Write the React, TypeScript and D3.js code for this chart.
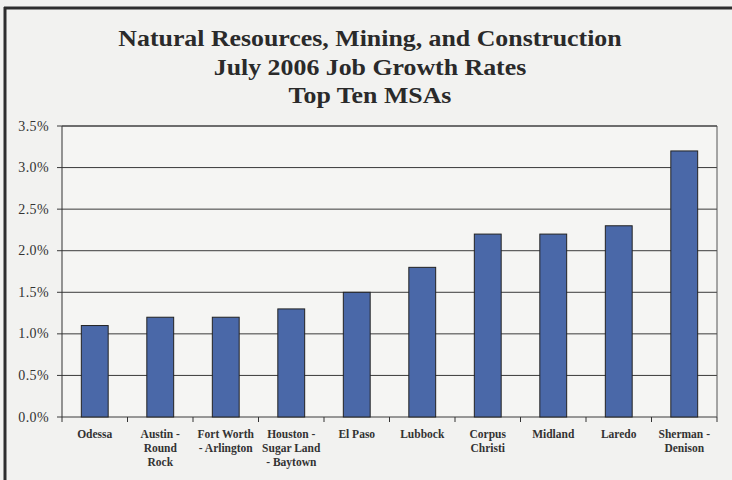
import React from "react";
import * as d3 from "d3";

const titleLines = [
  "Natural Resources, Mining, and Construction",
  "July 2006 Job Growth Rates",
  "Top Ten MSAs",
];
const categories = [
  "Odessa",
  "Austin -\nRound\nRock",
  "Fort Worth\n- Arlington",
  "Houston -\nSugar Land\n- Baytown",
  "El Paso",
  "Lubbock",
  "Corpus\nChristi",
  "Midland",
  "Laredo",
  "Sherman -\nDenison",
];
const values = [0.011, 0.012, 0.012, 0.013, 0.015, 0.018, 0.022, 0.022, 0.023, 0.032];
const yTicks = [0, 0.005, 0.01, 0.015, 0.02, 0.025, 0.03, 0.035];

const W = 732;
const H = 480;
const plot = { left: 62, right: 717, top: 126, bottom: 417 };
const serif = "'Liberation Serif', 'Times New Roman', serif";

export default function App() {
  const x = d3.scaleBand<string>().domain(categories).range([plot.left, plot.right]).padding(0);
  const y = d3.scaleLinear().domain([0, 0.035]).range([plot.bottom, plot.top]);
  const barW = x.bandwidth() * 0.41;
  const fmt = d3.format(".1%");
  const boundaries = categories.map((c) => x(c) as number).concat([plot.right]);

  return (
    <svg
      width={W}
      height={H}
      style={{ position: "fixed", left: 0, top: 0, display: "block" }}
      fontFamily={serif}
    >
      <rect x={0} y={0} width={W} height={H} fill="#f2f2f0" />
      {/* outer frame (left and top) */}
      <line x1={5} y1={7} x2={5} y2={H} stroke="#2e2e2e" strokeWidth={3} />
      <line x1={4} y1={8} x2={W} y2={8} stroke="#2e2e2e" strokeWidth={3} />

      {/* title */}
      {titleLines.map((t, i) => (
        <text
          key={t}
          transform={`translate(370,${46 + i * 28.5}) scale(1.1,1)`}
          textAnchor="middle"
          fontSize={23.5}
          fontWeight="bold"
          fill="#2a2a2a"
        >
          {t}
        </text>
      ))}

      {/* plot background */}
      <rect
        x={plot.left}
        y={plot.top}
        width={plot.right - plot.left}
        height={plot.bottom - plot.top}
        fill="#f5f5f3"
      />

      {/* gridlines */}
      {yTicks.map((t) => (
        <line
          key={"g" + t}
          x1={plot.left - 5}
          x2={plot.right}
          y1={y(t)}
          y2={y(t)}
          stroke="#3a3a3a"
          strokeWidth={1}
        />
      ))}

      {/* y labels */}
      {yTicks.map((t) => (
        <text
          key={"yl" + t}
          x={49}
          y={y(t) + 4.5}
          textAnchor="end"
          fontSize={14}
          letterSpacing={0.4}
          fill="#333"
        >
          {fmt(t)}
        </text>
      ))}

      {/* bars */}
      {categories.map((c, i) => {
        const cx = (x(c) as number) + x.bandwidth() / 2;
        return (
          <rect
            key={"b" + c}
            x={cx - barW / 2}
            y={y(values[i])}
            width={barW}
            height={y(0) - y(values[i])}
            fill="#4a68a8"
            stroke="#222"
            strokeWidth={1}
          />
        );
      })}

      {/* plot frame */}
      <line x1={plot.left} x2={plot.left} y1={plot.top} y2={plot.bottom} stroke="#333" />
      <line x1={plot.right} x2={plot.right} y1={plot.top} y2={plot.bottom} stroke="#555" />
      <line x1={plot.left} x2={plot.right} y1={plot.top} y2={plot.top} stroke="#444" />

      {/* x ticks */}
      {boundaries.map((b, i) => (
        <line key={"xt" + i} x1={b} x2={b} y1={plot.bottom} y2={plot.bottom + 5} stroke="#333" />
      ))}

      {/* x labels */}
      {categories.map((c) => {
        const cx = (x(c) as number) + x.bandwidth() / 2;
        return (
          <text
            key={"xl" + c}
            textAnchor="middle"
            fontSize={11.5}
            fontWeight="bold"
            fill="#333"
          >
            {c.split("\n").map((ln, j) => (
              <tspan key={j} x={cx} y={438 + j * 14}>
                {ln}
              </tspan>
            ))}
          </text>
        );
      })}
    </svg>
  );
}
